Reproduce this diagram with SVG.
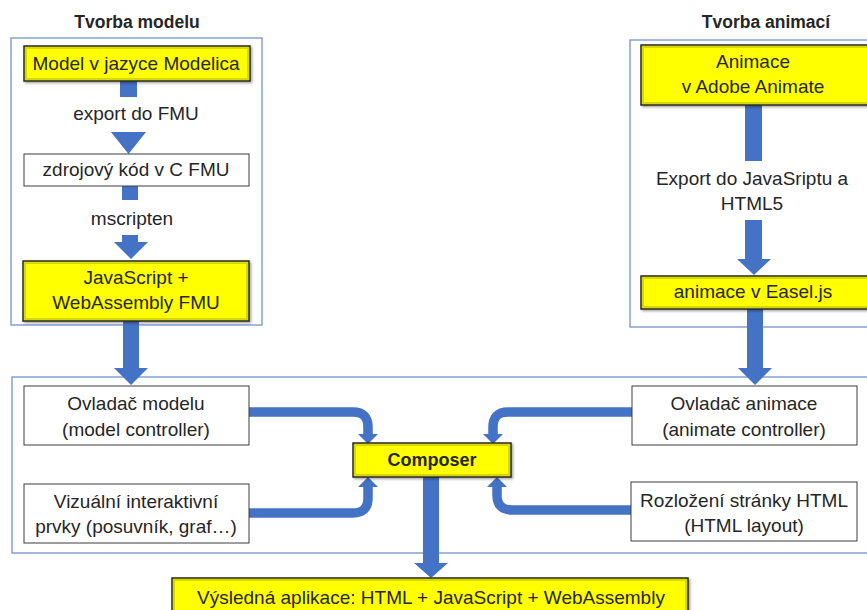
<svg xmlns="http://www.w3.org/2000/svg" width="867" height="610" viewBox="0 0 867 610">
<style>
text{font-family:"Liberation Sans",Arial,sans-serif;font-size:19px;fill:#262626;text-anchor:middle}
.title{font-weight:bold;font-size:17.5px}
.bold{font-weight:bold;font-size:18px}
.cont{fill:none;stroke:#7393cb;stroke-width:1.3}
.wbox{fill:#fff;stroke:#3c3c3c;stroke-width:1}
.ybox{fill:#ffff00;stroke:#262626;stroke-width:1.5;filter:url(#sh)}
.ybev{fill:none;stroke:#d8d800;stroke-width:2}
.blk{fill:#4472c4}
.cur{fill:none;stroke:#4472c4;stroke-width:9.5;marker-end:url(#hd)}
</style>
<defs>
<filter id="sh" x="-10%" y="-20%" width="120%" height="150%">
<feDropShadow dx="1.5" dy="1.5" stdDeviation="1" flood-color="#000" flood-opacity="0.35"/>
</filter>
<marker id="hd" markerUnits="userSpaceOnUse" viewBox="0 -10 10 20" refX="0" refY="0" markerWidth="10" markerHeight="20" orient="auto">
<path d="M0,-10 L10,0 L0,10 z" fill="#4472c4"/>
</marker>
</defs>

<g id="containers">
<rect class="cont" x="11" y="38" width="251" height="287"/>
<rect class="cont" x="630" y="40" width="245" height="287"/>
<rect class="cont" x="12" y="377" width="862" height="176"/>
<text class="title" x="137" y="28">Tvorba modelu</text>
<text class="title" x="766" y="28">Tvorba animací</text>
</g>

<g id="connectors">
<rect class="blk" x="120" y="81" width="17" height="16"/>
<polygon class="blk" points="111,132 146,132 128.5,154"/>
<rect class="blk" x="122" y="186" width="16" height="14"/>
<polygon class="blk" points="122,235 138,235 138,242 148,242 131,259 114,242 122,242"/>
<polygon class="blk" points="123,321 139,321 139,368 148,368 131,385 114,368 123,368"/>
<rect class="blk" x="745" y="105" width="17" height="56"/>
<polygon class="blk" points="745,220 762,220 762,259 771,259 754,275 737,259 745,259"/>
<polygon class="blk" points="747,309 763,309 763,368 772,368 755,385 738,368 747,368"/>
<polygon class="blk" points="423,477 439,477 439,563 448,563 431,578 414,563 423,563"/>
<path class="cur" d="M249,412 H353 Q368,412 368,427 V434"/>
<path class="cur" d="M632,412 H508 Q493,412 493,427 V434"/>
<path class="cur" d="M249,513 H353 Q368,513 368,498 V487"/>
<path class="cur" d="M631,510 H512 Q497,510 497,495 V487"/>
<text x="136" y="120">export do FMU</text>
<text x="132" y="225">mscripten</text>
<text x="752" y="185">Export do JavaSriptu a</text>
<text x="752" y="210">HTML5</text>
</g>

<g id="n-modelica">
<rect class="ybox" x="24" y="46" width="226" height="35"/>
<rect class="ybev" x="26" y="48" width="222" height="31"/>
<text x="136" y="70">Model v jazyce Modelica</text>
</g>
<g id="n-zdroj">
<rect class="wbox" x="24" y="154" width="225" height="32"/>
<text x="136" y="176">zdrojový kód v C FMU</text>
</g>
<g id="n-jswasm">
<rect class="ybox" x="23" y="261" width="226" height="60"/>
<rect class="ybev" x="25" y="263" width="222" height="56"/>
<text x="136" y="284">JavaScript +</text>
<text x="136" y="309">WebAssembly FMU</text>
</g>
<g id="n-animace">
<rect class="ybox" x="641" y="45" width="240" height="60"/>
<rect class="ybev" x="643" y="47" width="236" height="56"/>
<text x="753" y="68">Animace</text>
<text x="753" y="93">v Adobe Animate</text>
</g>
<g id="n-easel">
<rect class="ybox" x="641" y="276" width="240" height="33"/>
<rect class="ybev" x="643" y="278" width="236" height="29"/>
<text x="753" y="298">animace v Easel.js</text>
</g>
<g id="n-ovl-model">
<rect class="wbox" x="24" y="386" width="225" height="59"/>
<text x="136" y="410">Ovladač modelu</text>
<text x="136" y="436">(model controller)</text>
</g>
<g id="n-vizual">
<rect class="wbox" x="24" y="484" width="225" height="59"/>
<text x="136" y="508">Vizuální interaktivní</text>
<text x="136" y="533">prvky (posuvník, graf…)</text>
</g>
<g id="n-ovl-anim">
<rect class="wbox" x="632" y="386" width="225" height="59"/>
<text x="744" y="410">Ovladač animace</text>
<text x="744" y="436">(animate controller)</text>
</g>
<g id="n-layout">
<rect class="wbox" x="631" y="482" width="226" height="59"/>
<text x="744" y="507">Rozložení stránky HTML</text>
<text x="744" y="532">(HTML layout)</text>
</g>
<g id="n-composer">
<rect class="ybox" x="353" y="443" width="158" height="34"/>
<rect class="ybev" x="355" y="445" width="154" height="30"/>
<text class="bold" x="432" y="466">Composer</text>
</g>
<g id="n-vysledna">
<rect class="ybox" x="172" y="578" width="516" height="40"/>
<rect class="ybev" x="174" y="580" width="512" height="36"/>
<text x="431" y="604">Výsledná aplikace: HTML + JavaScript + WebAssembly</text>
</g>
</svg>
